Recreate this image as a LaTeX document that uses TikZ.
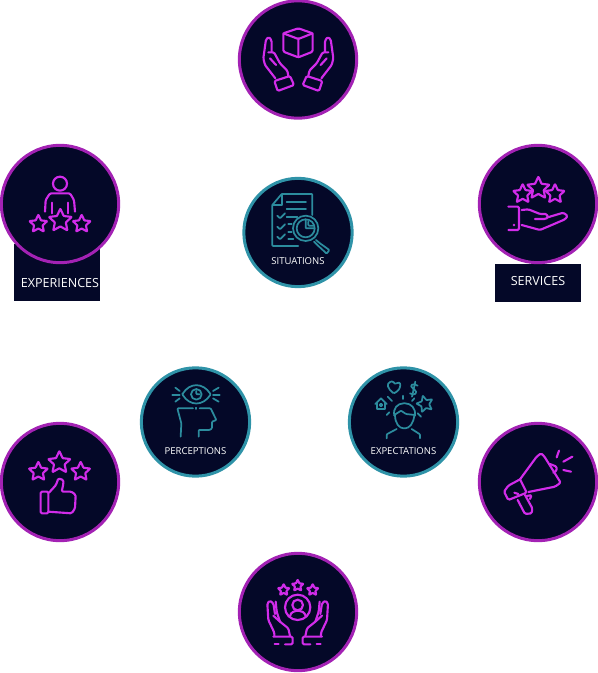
\documentclass[tikz,border=0pt]{standalone}
\usepackage{fontspec}
\setmainfont{Open Sans}
\definecolor{DiscClr}{HTML}{040828}
\definecolor{RingClr}{HTML}{A322B4}
\definecolor{TealRingClr}{HTML}{2F93A8}
\definecolor{PinkClr}{HTML}{D22CEA}
\definecolor{TealClr}{HTML}{2C8C9E}
\tikzset{
  bigdisc/.style={circle,draw=RingClr,fill=DiscClr,line width=2.25pt,minimum size=88pt,inner sep=0pt},
  smalldisc/.style={circle,draw=TealRingClr,fill=DiscClr,line width=2.25pt,minimum size=81.25pt,inner sep=0pt},
  tagbox/.style={fill=DiscClr,minimum width=64.5pt,inner sep=0pt},
  taglabel/.style={text=white,font=\fontsize{9.4pt}{11pt}\selectfont,inner sep=0pt},
  disclabel/.style={text=white,font=\fontsize{7.15pt}{9pt}\selectfont,inner sep=0pt},
  iconarea/.style 2 args={xshift=#1*0.75pt,yshift=-#2*0.75pt,x=0.25pt,y=-0.25pt},
  pinkline/.style={draw=PinkClr,line width=1.6pt,line join=round,line cap=round,rounded corners=1pt},
  tealline/.style={draw=TealClr,line width=1.3pt,line join=round,line cap=round,rounded corners=0.6pt}
}
\newcommand{\StarIcon}[4]{%
  \begin{scope}[shift={(#2,#3)}]
    \draw[#1,rounded corners=0.4pt] (-90:#4) -- (-54:0.48*#4) -- (-18:#4) -- (18:0.48*#4) -- (54:#4) -- (90:0.48*#4) -- (126:#4) -- (162:0.48*#4) -- (198:#4) -- (234:0.48*#4) -- cycle;
  \end{scope}}
\newcommand{\CupHand}{%
  \draw[pinkline] (133,243) -- (180,228) -- (192,255) -- (143,273) -- cycle;
  \draw[pinkline] (136,235) -- (105,195) -- (100,175) -- (108,118) -- (117,111) -- (125,122) -- (125,155);
  \draw[pinkline] (115,157) -- (132,157) -- (150,190) -- (172,212) -- (175,228);
  \draw[pinkline] (120,175) -- (138,195);}
\newcommand{\OpenHand}{%
  \draw[pinkline] (115,260) -- (173,260) -- (173,283) -- (150,283);
  \draw[pinkline] (135,283) -- (115,283) -- cycle;
  \draw[pinkline] (118,258) -- (118,248) -- (100,210) -- (97,160) -- (105,152) -- (115,160) -- (120,192);
  \draw[pinkline] (122,155) -- (125,185) -- (135,215);
  \draw[pinkline] (115,197) -- (135,215) -- (160,235) -- (165,258);}
\begin{document}
\begin{tikzpicture}[x=0.75pt,y=-0.75pt]
\useasboundingbox (0,0) rectangle (598,673);

\node[tagbox,minimum height=42.75pt] (experiencesbox) at (57,272.5) {};
\node[tagbox,minimum height=28.5pt] (servicesbox) at (538,283) {};

\node[bigdisc] (giving) at (298,59.5) {};
\node[bigdisc] (experiences) at (60,204) {};
\node[bigdisc] (services) at (538,204) {};
\node[bigdisc] (ratings) at (60,482) {};
\node[bigdisc] (promotion) at (538,482) {};
\node[bigdisc] (people) at (298,612) {};
\node[smalldisc] (situations) at (298,232.5) {};
\node[smalldisc] (perceptions) at (195.5,422) {};
\node[smalldisc] (expectations) at (403.5,422) {};

\node[taglabel] (experienceslabel) at (60,283.5) {EXPERIENCES};
\node[taglabel] (serviceslabel) at (538,281.5) {SERVICES};
\node[disclabel] (situationslabel) at (298,260.7) {SITUATIONS};
\node[disclabel] (perceptionslabel) at (195.5,450.7) {PERCEPTIONS};
\node[disclabel] (expectationslabel) at (403.5,450.7) {EXPECTATIONS};

\begin{scope}[iconarea={230}{0}]
\draw[pinkline] (160,100) -- (205,85) -- (248,100) -- (248,155) -- (205,172) -- (160,155) -- cycle;
\draw[pinkline] (160,100) -- (205,117) -- (248,100) (205,117) -- (205,172);
\CupHand
\end{scope}
\begin{scope}[iconarea={366.67}{0},x=-0.25pt]
\CupHand
\end{scope}

\begin{scope}[iconarea={0}{140}]
\draw[pinkline] (180,131) circle (21);
\draw[pinkline] (135,215) -- (137,180) -- (150,160) -- (210,160) -- (222,180) -- (225,215);
\draw[pinkline] (155,188) -- (155,220) (205,188) -- (205,220);
\StarIcon{pinkline}{115}{252}{28}
\StarIcon{pinkline}{181}{242}{36}
\StarIcon{pinkline}{245}{252}{28}
\end{scope}

\begin{scope}[iconarea={475}{140}]
\StarIcon{pinkline}{143}{162}{30}
\StarIcon{pinkline}{190}{145}{35}
\StarIcon{pinkline}{240}{162}{30}
\draw[pinkline] (100,200) -- (132,200) -- (132,270) -- (100,270);
\fill[PinkClr] (117,255) circle (4);
\draw[pinkline] (140,210) -- (160,208) -- (195,222) -- (215,222) -- (219,232) -- (212,237) -- (180,237);
\draw[pinkline] (218,232) -- (265,218) -- (278,228) -- (270,238) -- (195,270) -- (140,255);
\end{scope}

\begin{scope}[iconarea={240}{175}]
\draw[tealline] (175,213) -- (97,213) -- (97,90) -- (125,57) -- (217,57) -- (217,120);
\draw[tealline,rounded corners=0pt] (125,57) -- (125,90) -- (97,90);
\draw[tealline] (140,80) -- (198,80) (140,102) -- (198,102) (140,125) -- (172,125);
\draw[tealline] (145,148) -- (155,148) (145,170) -- (155,170) (145,192) -- (160,192);
\draw[tealline] (112,122) -- (120,130) -- (135,115);
\draw[tealline] (112,155) -- (120,163) -- (135,148);
\draw[tealline] (112,185) -- (120,193) -- (135,178);
\draw[tealline,fill=DiscClr] (197,160) circle (38);
\draw[tealline] (197,160) circle (27);
\draw[tealline] (197,133) -- (197,160) -- (222,160);
\draw[tealline] (205,140) -- (205,152) -- (220,152);
\draw[tealline] (228,195) -- (240,205) -- (268,225) -- (260,236) -- (232,210) -- (222,200);
\end{scope}

\begin{scope}[iconarea={138}{365}]
\draw[tealline] (133,88) .. controls (155,52) and (195,52) .. (218,88) .. controls (195,124) and (155,124) .. (133,88) -- cycle;
\draw[tealline] (175,88) circle (16);
\draw[tealline] (175,78) -- (175,88) -- (185,88);
\draw[tealline] (112,68) -- (125,78) (103,90) -- (125,90) (112,110) -- (125,100);
\draw[tealline] (242,68) -- (225,78) (245,90) -- (225,90) (242,110) -- (225,100);
\draw[tealline] (175,128) -- (175,132);
\draw[tealline] (128,215) -- (130,175) -- (118,130) -- (165,130);
\draw[tealline] (185,130) -- (218,130) -- (235,165) -- (222,170) -- (222,190) -- (215,195) -- (182,195) -- (182,215);
\end{scope}

\begin{scope}[iconarea={346}{365}]
\draw[tealline] (143,85) .. controls (125,72) and (120,55) .. (135,50) .. controls (142,48) and (145,55) .. (148,57) .. controls (155,50) and (165,52) .. (162,65) .. controls (160,75) and (150,82) .. (143,85) -- cycle;
\draw[tealline] (215,62) .. controls (200,52) and (188,62) .. (203,72) .. controls (218,82) and (205,95) .. (192,85);
\draw[tealline] (208,50) -- (198,95);
\draw[tealline,rounded corners=0pt] (88,117) -- (105,100) -- (122,117);
\draw[tealline,rounded corners=0pt] (92,113) -- (92,132) -- (118,132) -- (118,113);
\draw[tealline] (105,120) circle (4);
\StarIcon{tealline,rotate=15}{237}{117}{26}
\draw[tealline] (125,95) -- (138,108) (171,92) -- (171,102) (205,100) -- (198,108) (122,150) -- (130,142) (215,145) -- (225,155);
\draw[tealline] (145,152) .. controls (140,130) and (155,115) .. (175,115) .. controls (195,115) and (210,130) .. (207,152);
\draw[tealline] (145,150) -- (165,137) -- (180,147) -- (207,150);
\draw[tealline] (147,150) .. controls (147,175) and (160,190) .. (175,190) .. controls (190,190) and (203,175) .. (205,150);
\draw[tealline] (122,220) -- (122,208) -- (152,192) (222,220) -- (222,208) -- (197,192);
\end{scope}

\begin{scope}[iconarea={0}{420}]
\StarIcon{pinkline}{115}{155}{30}
\StarIcon{pinkline}{178}{128}{35}
\StarIcon{pinkline}{242}{155}{30}
\draw[pinkline] (145,215) -- (122,215) -- (122,280) -- (145,280) -- cycle;
\draw[pinkline] (147,218) -- (168,195) -- (175,175) -- (190,180) -- (190,192) -- (185,215) -- (215,215) -- (227,225) -- (225,265) -- (215,280) -- (145,275);
\end{scope}

\begin{scope}[iconarea={475}{420}]
\draw[pinkline] (135,178) -- (185,110) -- (198,100) -- (207,108) -- (257,188) -- (240,200) -- (160,216);
\draw[pinkline] (135,178) -- (100,197) -- (87,215) -- (100,240) -- (155,218) -- (135,178);
\draw[pinkline] (118,218) -- (130,222);
\draw[pinkline] (128,240) -- (150,282) -- (170,280) -- (172,265) -- (150,225);
\draw[pinkline] (155,228) -- (170,225) -- (165,237);
\draw[pinkline] (225,132) -- (245,140) -- (245,152) -- (235,158);
\draw[pinkline] (252,92) -- (245,112) (292,110) -- (265,125) (288,155) -- (265,150);
\end{scope}

\begin{scope}[iconarea={235}{550}]
\StarIcon{pinkline}{146}{120}{18}
\StarIcon{pinkline}{188}{107}{18}
\StarIcon{pinkline}{233}{120}{18}
\draw[pinkline] (188,172) circle (38);
\draw[pinkline] (188,165) circle (16);
\draw[pinkline] (165,198) -- (170,187) -- (188,181) -- (207,187) -- (212,198);
\OpenHand
\end{scope}
\begin{scope}[iconarea={360.33}{550},x=-0.25pt]
\OpenHand
\end{scope}

\end{tikzpicture}
\end{document}
